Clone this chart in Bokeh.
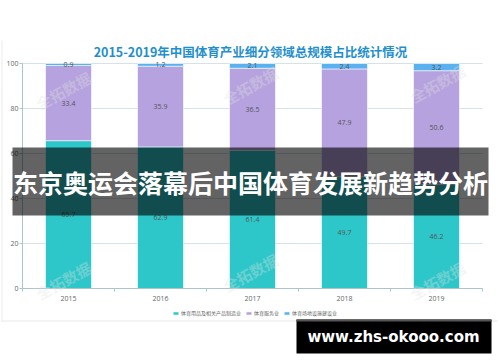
from bokeh.plotting import figure
from bokeh.models import (ColumnDataSource, Label, BoxAnnotation, Legend, LegendItem,
                          FixedTicker, Range1d)
from bokeh.embed import file_html
from bokeh.resources import INLINE
from bokeh.core.properties import value

# ---- data ----
years = ["2015", "2016", "2017", "2018", "2019"]
manufacturing = [65.7, 62.9, 61.4, 49.7, 46.2]
services = [33.4, 35.9, 36.5, 47.9, 50.6]
facilities = [0.9, 1.2, 2.1, 2.4, 3.2]
series_names = ["体育用品及相关产品制造业", "体育服务业", "体育场地设施建设业"]
y_ticks = [0, 20, 40, 60, 80, 100]
title_text = "2015-2019年中国体育产业细分领域总规模占比统计情况"
banner_text = "东京奥运会落幕后中国体育发展新趋势分析"
url_text = "www.zhs-okooo.com"
watermark_text = "全拓数据"

colors = ["#2ec7c9", "#b6a2de", "#5ab1ef"]
keys = ["m", "s", "f"]
CJK = "Noto Sans CJK SC"
W, H = 500, 362

n = len(years)
centers = [i + 0.5 for i in range(n)]
bounds_x = list(range(n + 1))

src = ColumnDataSource(dict(x=centers, m=manufacturing, s=services, f=facilities))

# the frame covers the whole canvas; the plot area (0..n, 0..100) sits inside it
p = figure(width=W, height=H, output_backend="svg", toolbar_location=None,
           x_range=Range1d(-22 / 92, n + 18 / 92),
           y_range=Range1d(-(H - 288) / 2.25, 100 + 63 / 2.25),
           min_border=0, min_border_left=0, min_border_right=0,
           min_border_top=0, min_border_bottom=0)
p.outline_line_color = None
p.background_fill_color = "white"
p.border_fill_color = "white"
p.xgrid.visible = False
p.ygrid.visible = False

# grid lines limited to the plot area
p.segment(x0=[0] * len(y_ticks), x1=[n] * len(y_ticks), y0=y_ticks, y1=y_ticks,
          line_color="#d3e3e7", line_width=1)

renderers = p.vbar_stack(keys, x="x", width=0.5, color=colors, source=src,
                         line_color="white", line_width=0.6)

# value labels at segment centers
lx, ly, lt = [], [], []
for i in range(n):
    base = 0.0
    for vals in (manufacturing, services, facilities):
        v = vals[i]
        lx.append(centers[i])
        ly.append(base + v / 2.0)
        lt.append(str(v))
        base += v
p.text(x=lx, y=ly, text=lt, text_align="center", text_baseline="middle",
       text_font_size="7px", text_color="#555555", text_font=value("Open Sans"))

# axes drawn at fixed positions inside the frame
axis_col = "#a9c6cc"
p.yaxis.fixed_location = 0
p.yaxis.bounds = (0, 100)
p.yaxis.ticker = FixedTicker(ticks=y_ticks)
p.yaxis.axis_line_color = axis_col
p.yaxis.major_tick_line_color = axis_col
p.yaxis.major_tick_in = 0
p.yaxis.major_tick_out = 3
p.yaxis.minor_tick_line_color = None
p.yaxis.major_label_standoff = 1
p.yaxis.major_label_text_font_size = "7px"
p.yaxis.major_label_text_color = "#666666"
p.yaxis.major_label_text_font = "Open Sans"

p.xaxis.fixed_location = 0
p.xaxis.bounds = (0, n)
p.xaxis.ticker = FixedTicker(ticks=centers, minor_ticks=bounds_x)
p.xaxis.major_label_overrides = {c: y for c, y in zip(centers, years)}
p.xaxis.axis_line_color = axis_col
p.xaxis.major_tick_line_color = None
p.xaxis.major_tick_in = 0
p.xaxis.major_tick_out = 0
p.xaxis.minor_tick_line_color = axis_col
p.xaxis.minor_tick_in = 0
p.xaxis.minor_tick_out = 3
p.xaxis.major_label_standoff = 4
p.xaxis.major_label_text_font_size = "7px"
p.xaxis.major_label_text_color = "#666666"
p.xaxis.major_label_text_font = "Open Sans"

# legend
legend = Legend(items=[LegendItem(label=nm, renderers=[r]) for nm, r in zip(series_names, renderers)],
                orientation="horizontal", location=(172, 46),
                label_text_font_size="5px", label_text_color="#666666", label_text_font=CJK,
                glyph_width=7, glyph_height=4, label_standoff=2, spacing=4,
                label_height=7, label_width=10,
                padding=0, margin=0, border_line_color=None, background_fill_alpha=0)
p.add_layout(legend)

# screen units: origin at the bottom-left of the canvas
# container borders
p.add_layout(BoxAnnotation(left=0, right=497, bottom=41, top=42,
                           left_units="screen", right_units="screen",
                           bottom_units="screen", top_units="screen",
                           fill_color="#e8e8e8", fill_alpha=1, line_color=None))
p.add_layout(BoxAnnotation(left=1, right=2, bottom=42, top=322,
                           left_units="screen", right_units="screen",
                           bottom_units="screen", top_units="screen",
                           fill_color="#ececec", fill_alpha=1, line_color=None))

# title
p.add_layout(Label(x=250, y=311, x_units="screen", y_units="screen", text=title_text,
                   text_align="center", text_baseline="middle", text_font_size="12.5px",
                   text_font_style="bold", text_color="#1f8fcd", text_font=CJK))

# watermarks
for wx, wy in [(63, 272), (250, 277), (437, 279), (63, 82), (250, 90), (437, 82)]:
    p.add_layout(Label(x=wx, y=wy, x_units="screen", y_units="screen", text=watermark_text,
                       text_align="center", text_baseline="middle", text_font_size="15px",
                       text_font_style="bold", text_color="#e2e2e2", text_alpha=0.35,
                       angle=0.5, text_font=CJK))

# banner overlay
p.add_layout(BoxAnnotation(left=12, right=488, bottom=147, top=215,
                           left_units="screen", right_units="screen",
                           bottom_units="screen", top_units="screen",
                           fill_color="black", fill_alpha=0.61, line_color=None))
p.add_layout(Label(x=250, y=181, x_units="screen", y_units="screen", text=banner_text,
                   text_align="center", text_baseline="middle", text_font_size="25px",
                   text_font_style="bold", text_color="white", text_font=CJK))

# url box
p.add_layout(BoxAnnotation(left=296, right=491, bottom=9, top=43,
                           left_units="screen", right_units="screen",
                           bottom_units="screen", top_units="screen",
                           fill_color="black", fill_alpha=1, line_color=None))
p.add_layout(BoxAnnotation(left=296, right=491, bottom=41, top=43,
                           left_units="screen", right_units="screen",
                           bottom_units="screen", top_units="screen",
                           fill_color="#555555", fill_alpha=1, line_color=None))
p.add_layout(Label(x=393, y=26, x_units="screen", y_units="screen", text=url_text,
                   text_align="center", text_baseline="middle", text_font_size="15px",
                   text_font_style="bold", text_color="white", text_font="DejaVu Sans"))

open("out.html", "w").write(file_html(p, INLINE))
